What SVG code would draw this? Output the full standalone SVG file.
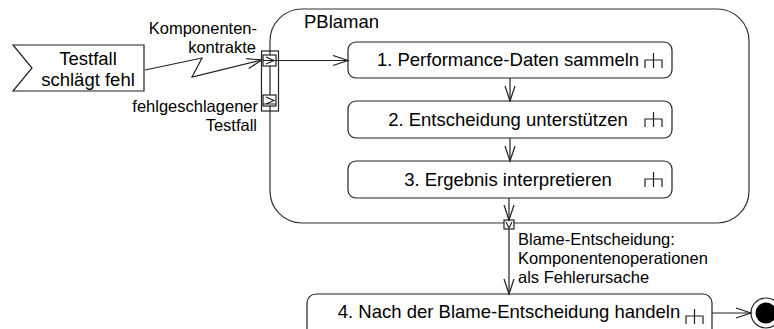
<svg xmlns="http://www.w3.org/2000/svg" width="774" height="329" viewBox="0 0 774 329">
  <style>
    .ln { fill: none; stroke: #222; stroke-width: 1.2; }
    .box { fill: #fff; stroke: #222; stroke-width: 1.2; }
    .frame { fill: #fff; stroke: #333; stroke-width: 1.2; }
    .t { font-family: "Liberation Sans", Arial, sans-serif; fill: #000; }
    .act { font-size: 18.5px; text-anchor: middle; }
    .lbl { font-size: 16.5px; }
    .r { text-anchor: end; }
  </style>
  <defs>
    <marker id="open" markerUnits="userSpaceOnUse" markerWidth="18" markerHeight="12" refX="15" refY="5" orient="auto" viewBox="-1 -1 18 12">
      <path d="M0,0 L15,5 L0,10" fill="none" stroke="#222" stroke-width="1.2"/>
    </marker>
    <g id="rake">
      <path class="ln" d="M8.5,0 V15 M0,15 V7 H17 V15"/>
    </g>
  </defs>

  <!-- activity frame -->
  <g id="pblaman">
    <rect class="frame" x="270" y="9" width="479" height="214" rx="32" ry="32"/>
    <text class="t" x="304" y="28" font-size="18.5px">PBlaman</text>
  </g>

  <!-- accept event action -->
  <g id="signal">
    <polygon class="box" points="13,45 144,45 144,91 13,91 32,68"/>
    <text class="t act" x="88" y="65">Testfall</text>
    <text class="t act" x="88" y="86">schlägt fehl</text>
  </g>

  <g id="act1">
    <rect class="box" x="348" y="42" width="324" height="36" rx="8"/>
    <text class="t act" x="508" y="66">1. Performance-Daten sammeln</text>
    <use href="#rake" x="645" y="53"/>
  </g>
  <g id="act2">
    <rect class="box" x="348" y="101" width="324" height="37" rx="8"/>
    <text class="t act" x="508" y="126">2. Entscheidung unterstützen</text>
    <use href="#rake" x="645" y="112"/>
  </g>
  <g id="act3">
    <rect class="box" x="348" y="161" width="324" height="37" rx="8"/>
    <text class="t act" x="508" y="186">3. Ergebnis interpretieren</text>
    <use href="#rake" x="645" y="172"/>
  </g>
  <g id="act4">
    <rect class="box" x="307" y="294" width="405" height="46" rx="9"/>
    <text class="t act" x="509" y="318">4. Nach der Blame-Entscheidung handeln</text>
    <use href="#rake" x="686" y="309"/>
  </g>

  <!-- final node -->
  <g id="final">
    <circle cx="766" cy="313" r="15" fill="#fff" stroke="#222" stroke-width="1.2"/>
    <circle cx="766" cy="313" r="10.5" fill="#000"/>
  </g>

  <!-- parameter set with input pins -->
  <g id="inputs">
    <rect class="box" x="261.5" y="51" width="17" height="60"/>
    <line class="ln" x1="270" y1="51" x2="270" y2="111"/>
    <rect class="box" x="263" y="55" width="13" height="11"/>
    <path class="ln" d="M266,57 L274,60.5 L266,64 M263,60.5 H276"/>
    <rect class="box" x="263" y="95" width="13" height="11"/>
    <path class="ln" d="M266,97 L274,100.5 L266,104 M263,104 H276"/>
    <text class="t lbl r" x="257" y="34">Komponenten-</text>
    <text class="t lbl r" x="256" y="53">kontrakte</text>
    <text class="t lbl r" x="258" y="112">fehlgeschlagener</text>
    <text class="t lbl r" x="257" y="131">Testfall</text>
  </g>

  <!-- output pin -->
  <g id="output">
    <rect class="box" x="504" y="220" width="10" height="9"/>
    <path class="ln" d="M506,222 L509,228 L512,222"/>
    <text class="t lbl" x="518" y="245">Blame-Entscheidung:</text>
    <text class="t lbl" x="518" y="264">Komponentenoperationen</text>
    <text class="t lbl" x="518" y="283">als Fehlerursache</text>
  </g>

  <g id="connectors">
    <polyline class="ln" points="145,70 202,58 192,77 262,60" marker-end="url(#open)"/>
    <line class="ln" x1="276" y1="60.5" x2="348" y2="60.5" marker-end="url(#open)"/>
    <line class="ln" x1="510" y1="78" x2="510" y2="101" marker-end="url(#open)"/>
    <line class="ln" x1="510" y1="138" x2="510" y2="161" marker-end="url(#open)"/>
    <line class="ln" x1="509" y1="198" x2="509" y2="220" marker-end="url(#open)"/>
    <line class="ln" x1="509" y1="229" x2="509" y2="294" marker-end="url(#open)"/>
    <line class="ln" x1="712" y1="313" x2="751" y2="313" marker-end="url(#open)"/>
  </g>
</svg>
